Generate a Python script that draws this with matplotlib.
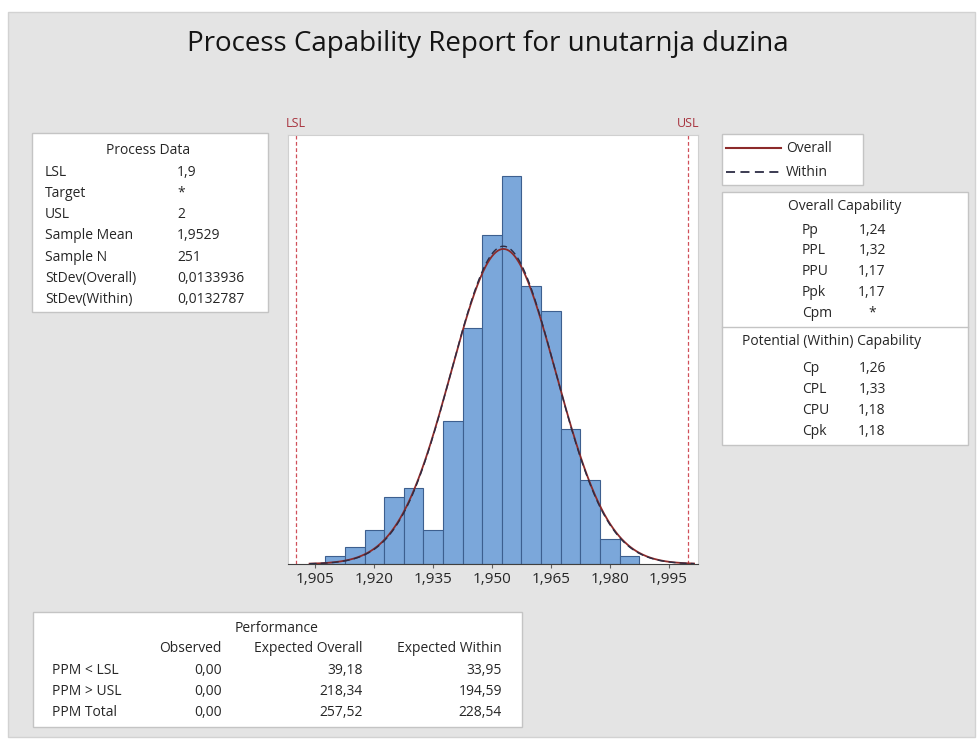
import numpy as np
import matplotlib.pyplot as plt
from matplotlib.patches import Rectangle

plt.rcParams['font.family'] = ['Open Sans', 'DejaVu Sans']

# histogram of unutarnja duzina (bin centres, counts)
bin_centers = [1.910, 1.915, 1.920, 1.925, 1.930, 1.935, 1.940, 1.945,
               1.950, 1.955, 1.960, 1.965, 1.970, 1.975, 1.980, 1.985]
counts = [1, 2, 4, 8, 9, 4, 17, 28, 39, 46, 33, 30, 16, 10, 3, 1]
bin_width = 0.005

lsl, usl = 1.9, 2.0
sample_mean = 1.9529
sample_n = 251
sd_overall = 0.0133936
sd_within = 0.0132787

tick_values = [1.905, 1.920, 1.935, 1.950, 1.965, 1.980, 1.995]
tick_labels = ['1,905', '1,920', '1,935', '1,950', '1,965', '1,980', '1,995']

process_labels = ['LSL', 'Target', 'USL', 'Sample Mean', 'Sample N',
                  'StDev(Overall)', 'StDev(Within)']
process_values = ['1,9', '*', '2', '1,9529', '251', '0,0133936', '0,0132787']

overall_labels = ['Pp', 'PPL', 'PPU', 'Ppk', 'Cpm']
overall_values = ['1,24', '1,32', '1,17', '1,17', '*']
within_labels = ['Cp', 'CPL', 'CPU', 'Cpk']
within_values = ['1,26', '1,33', '1,18', '1,18']

perf_columns = ['Observed', 'Expected Overall', 'Expected Within']
perf_rows = ['PPM < LSL', 'PPM > USL', 'PPM Total']
perf_observed = ['0,00', '0,00', '0,00']
perf_exp_overall = ['39,18', '218,34', '257,52']
perf_exp_within = ['33,95', '194,59', '228,54']

W, H = 979, 742
BG = '#e4e4e4'
EDGE = '#c4c4c4'
TXT = '#262626'
SPEC = '#a8343f'


def fx(px):
    return px / W


def fy(py):
    return 1 - py / H


fig = plt.figure(figsize=(W / 100, H / 100), dpi=100, facecolor='white')

# grey report background
fig.add_artist(Rectangle((fx(8), fy(737)), fx(967) - fx(0), fy(12) - fy(737),
                         transform=fig.transFigure, facecolor=BG,
                         edgecolor='#d2d2d2', lw=1, zorder=0))


def box(x0, y0, x1, y1):
    fig.add_artist(Rectangle((fx(x0), fy(y1)), fx(x1) - fx(x0), fy(y0) - fy(y1),
                             transform=fig.transFigure, facecolor='white',
                             edgecolor=EDGE, lw=1, zorder=1))


def txt(x, y, s, ha='left', size=10, color=TXT):
    fig.text(fx(x), fy(y), s, ha=ha, va='center', fontsize=size, color=color, zorder=3)


fig.text(fx(488), fy(44), 'Process Capability Report for unutarnja duzina',
         ha='center', va='center', fontsize=20, color='#141414')

# histogram panel
ax = fig.add_axes([fx(288), fy(564), fx(698) - fx(288), fy(135) - fy(564)])
ax.set_facecolor('white')
ax.bar(bin_centers, counts, width=bin_width, color='#7ba7da',
       edgecolor='#3d5f8f', linewidth=0.8, zorder=2)

x = np.linspace(1.9035, 2.0015, 400)
scale = sample_n * bin_width
pdf_overall = scale * np.exp(-0.5 * ((x - sample_mean) / sd_overall) ** 2) / (sd_overall * np.sqrt(2 * np.pi))
pdf_within = scale * np.exp(-0.5 * ((x - sample_mean) / sd_within) ** 2) / (sd_within * np.sqrt(2 * np.pi))
ax.plot(x, pdf_overall, color='#8c2a2a', lw=1.3, zorder=3)
ax.plot(x, pdf_within, color='#2c2c44', lw=1.0, ls=(0, (5, 3)), zorder=4)

for spec, name in [(lsl, 'LSL'), (usl, 'USL')]:
    ax.axvline(spec, color='#d0505a', lw=0.9, ls=(0, (3, 2)), zorder=1)
    ax.text(spec, 1.012, name, transform=ax.get_xaxis_transform(), ha='center',
            va='bottom', fontsize=9, color=SPEC)

ax.set_xlim(1.898, 2.0025)
ax.set_ylim(0, 50.9)
ax.set_yticks([])
ax.set_xticks(tick_values)
ax.set_xticklabels(tick_labels)
ax.tick_params(axis='x', length=3, color='#606060', labelsize=11, labelcolor=TXT, pad=3)
for side in ['left', 'right', 'top']:
    ax.spines[side].set_color('#d0d0d0')
ax.spines['bottom'].set_color('#404040')

# process data table
box(32, 133, 268, 312)
txt(148, 150, 'Process Data', ha='center')
for i, (lab, val) in enumerate(zip(process_labels, process_values)):
    y = 172 + i * 21.3
    txt(45, y, lab)
    txt(177, y, val)

# legend
box(722, 134, 863, 185)
fig.add_artist(plt.Line2D([fx(726), fx(781)], [fy(148), fy(148)], transform=fig.transFigure,
                          color='#8c2a2a', lw=1.5, zorder=3))
fig.add_artist(plt.Line2D([fx(726), fx(781)], [fy(172), fy(172)], transform=fig.transFigure,
                          color='#2c2c44', lw=1.3, ls=(0, (5, 3)), zorder=3))
txt(786, 148, 'Overall')
txt(786, 172, 'Within')

# capability table
box(722, 192, 968, 445)
fig.add_artist(plt.Line2D([fx(722), fx(968)], [fy(327), fy(327)], transform=fig.transFigure,
                          color=EDGE, lw=1, zorder=2))
txt(845, 207, 'Overall Capability', ha='center')
for i, (lab, val) in enumerate(zip(overall_labels, overall_values)):
    y = 230 + i * 20.8
    txt(802, y, lab)
    txt(872, y, val, ha='center')
txt(832, 341, 'Potential (Within) Capability', ha='center')
for i, (lab, val) in enumerate(zip(within_labels, within_values)):
    y = 368 + i * 21.3
    txt(802, y, lab)
    txt(872, y, val, ha='center')

# performance table
box(33, 612, 522, 727)
txt(277, 628, 'Performance', ha='center')
col_right = [222, 363, 502]
for xr, head in zip(col_right, perf_columns):
    txt(xr, 649, head, ha='right')
for i, row in enumerate(perf_rows):
    y = 670 + i * 21.5
    txt(52, y, row)
    for xr, vals in zip(col_right, [perf_observed, perf_exp_overall, perf_exp_within]):
        txt(xr, y, vals[i], ha='right')

fig.savefig('out.png', dpi=100, facecolor='white')
